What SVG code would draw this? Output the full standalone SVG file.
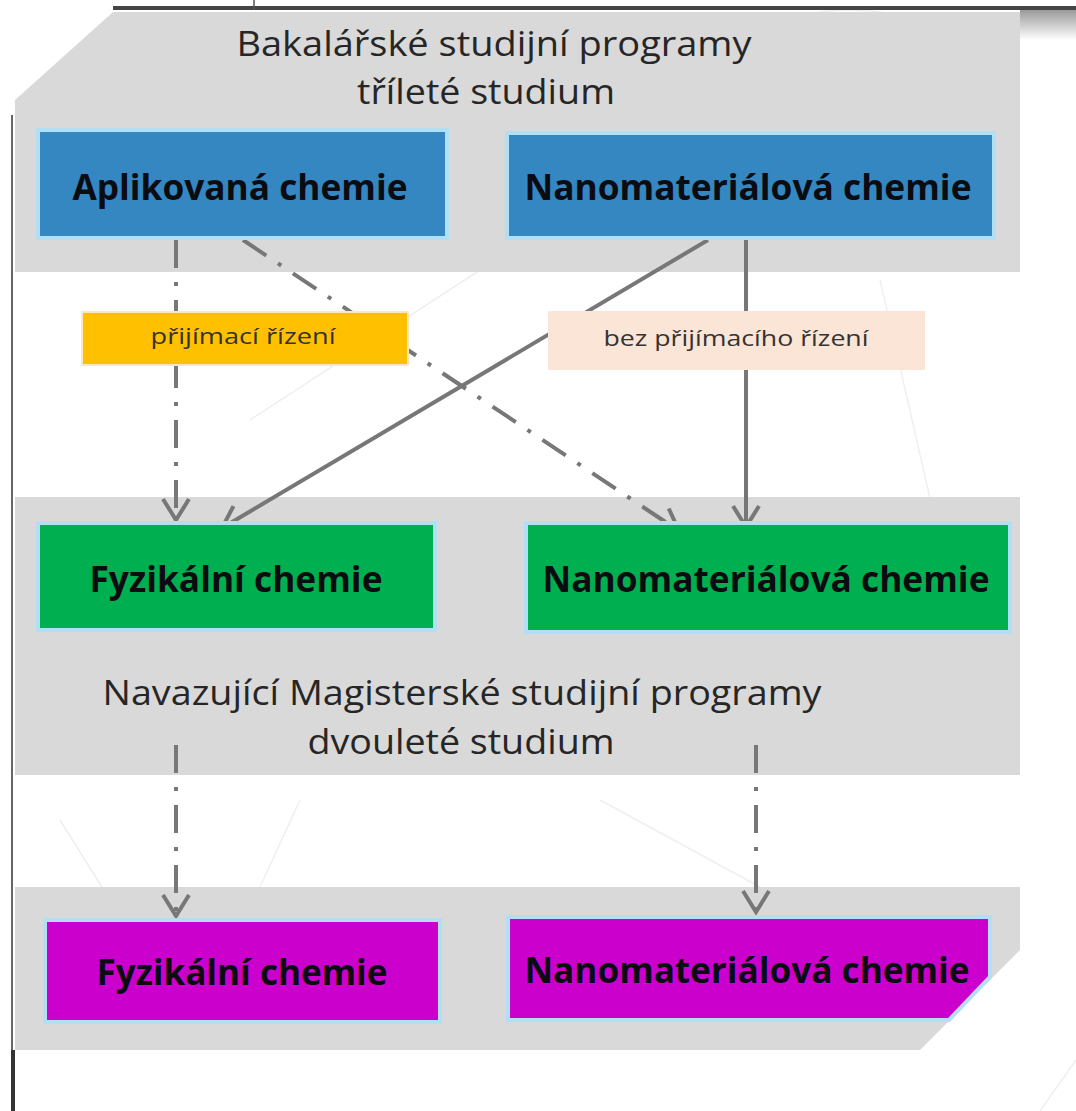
<svg xmlns="http://www.w3.org/2000/svg" width="1076" height="1111" viewBox="0 0 1076 1111">
<style>
.band{fill:#d9d9d9}
.box{stroke:#b3dff5;stroke-width:4}
.blue{fill:#3487c0}
.green{fill:#00b050}
.mag{fill:#cc00cc}
.bt{font-family:"Open Sans","Liberation Sans",sans-serif;font-weight:bold;font-size:35px;fill:#0b0b12;text-anchor:middle}
.tt{font-family:"Open Sans","Liberation Sans",sans-serif;font-size:35px;fill:#262626;text-anchor:middle}
.lt{font-family:"Open Sans","Liberation Sans",sans-serif;font-size:21px;fill:#333333;text-anchor:middle}
.con{fill:none;stroke:#777777;stroke-width:4}
.dd{stroke-dasharray:28 14 4 14}
.faint{stroke:#efefef;stroke-width:1.5;fill:none}
</style>
<defs>
<marker id="arr" viewBox="0 0 26 30" refX="23" refY="15" markerWidth="26" markerHeight="30" markerUnits="userSpaceOnUse" orient="auto">
<path d="M2,2 L23,15 L2,28" fill="none" stroke="#777777" stroke-width="4" stroke-dasharray="none"/>
</marker>
<linearGradient id="sh" x1="0" y1="0" x2="0" y2="1">
<stop offset="0" stop-color="#9a9a9a"/>
<stop offset="1" stop-color="#ffffff"/>
</linearGradient>
</defs>
<rect width="1076" height="1111" fill="#ffffff"/>
<g id="background">
<path class="faint" d="M250,420 L480,270 M880,280 L935,520 M60,820 L110,900 M300,800 L260,887 M600,800 L760,887 M1040,1111 L1076,1060 M700,60 Q850,-40 1000,60"/>
<rect x="1020" y="10" width="56" height="30" fill="url(#sh)"/>
<line x1="113" y1="8" x2="1076" y2="8" stroke="#454545" stroke-width="4"/>
<line x1="254" y1="0" x2="254" y2="10" stroke="#555" stroke-width="1.5"/>
<line x1="12" y1="115" x2="12" y2="1111" stroke="#333" stroke-width="1.5"/>
<line x1="13" y1="1050" x2="13" y2="1111" stroke="#333" stroke-width="4"/>
</g>
<g id="band-bachelor">
<polygon class="band" points="113,12 1020,12 1020,272 15,272 15,100"/>
<text class="tt" x="494" y="56" textLength="515" lengthAdjust="spacingAndGlyphs">Bakalářské studijní programy</text>
<text class="tt" x="486" y="104" textLength="258" lengthAdjust="spacingAndGlyphs">tříleté studium</text>
</g>
<g id="band-master">
<rect class="band" x="15" y="497" width="1005" height="278"/>
<text class="tt" x="462" y="705" textLength="719" lengthAdjust="spacingAndGlyphs">Navazující Magisterské studijní programy</text>
<text class="tt" x="461" y="754" textLength="307" lengthAdjust="spacingAndGlyphs">dvouleté studium</text>
</g>
<g id="band-doctoral">
<polygon class="band" points="15,887 1020,887 1020,950 920,1050 15,1050"/>
</g>
<g id="connectors">
<line class="con dd" x1="176" y1="240" x2="176" y2="520" marker-end="url(#arr)"/>
<line class="con dd" x1="243" y1="240" x2="679" y2="531" marker-end="url(#arr)"/>
<line class="con" x1="708" y1="240" x2="222" y2="528" marker-end="url(#arr)"/>
<line class="con" x1="746" y1="238" x2="746" y2="527" marker-end="url(#arr)"/>
<line class="con dd" x1="176" y1="745" x2="176" y2="916" marker-end="url(#arr)"/>
<line class="con dd" x1="756" y1="745" x2="756" y2="912" marker-end="url(#arr)"/>
</g>
<g id="label-prijimaci">
<rect x="82" y="312" width="326" height="53" fill="#ffc000" stroke="#fde6c0" stroke-width="2"/>
<text class="lt" x="243" y="344" textLength="185" lengthAdjust="spacingAndGlyphs">přijímací řízení</text>
</g>
<g id="label-bez">
<rect x="548" y="311" width="377" height="59" fill="#fbe5d6"/>
<text class="lt" x="736" y="346" textLength="265" lengthAdjust="spacingAndGlyphs">bez přijímacího řízení</text>
</g>
<g id="node-aplikovana">
<rect class="box blue" x="38" y="130" width="409" height="108"/>
<text class="bt" x="240" y="200" textLength="335" lengthAdjust="spacingAndGlyphs">Aplikovaná chemie</text>
</g>
<g id="node-nano-bc">
<rect class="box blue" x="507" y="133" width="487" height="105"/>
<text class="bt" x="748" y="200" textLength="447" lengthAdjust="spacingAndGlyphs">Nanomateriálová chemie</text>
</g>
<g id="node-fyz-mgr">
<rect class="box green" x="38" y="523" width="397" height="107"/>
<text class="bt" x="236" y="592" textLength="293" lengthAdjust="spacingAndGlyphs">Fyzikální chemie</text>
</g>
<g id="node-nano-mgr">
<rect class="box green" x="526" y="523" width="484" height="109"/>
<text class="bt" x="766" y="592" textLength="447" lengthAdjust="spacingAndGlyphs">Nanomateriálová chemie</text>
</g>
<g id="node-fyz-phd">
<rect class="box mag" x="45" y="920" width="395" height="102"/>
<text class="bt" x="242" y="985" textLength="291" lengthAdjust="spacingAndGlyphs">Fyzikální chemie</text>
</g>
<g id="node-nano-phd">
<polygon class="box mag" points="508,917 990,917 990,977 949,1020 508,1020"/>
<text class="bt" x="747" y="983" textLength="445" lengthAdjust="spacingAndGlyphs">Nanomateriálová chemie</text>
</g>
</svg>
